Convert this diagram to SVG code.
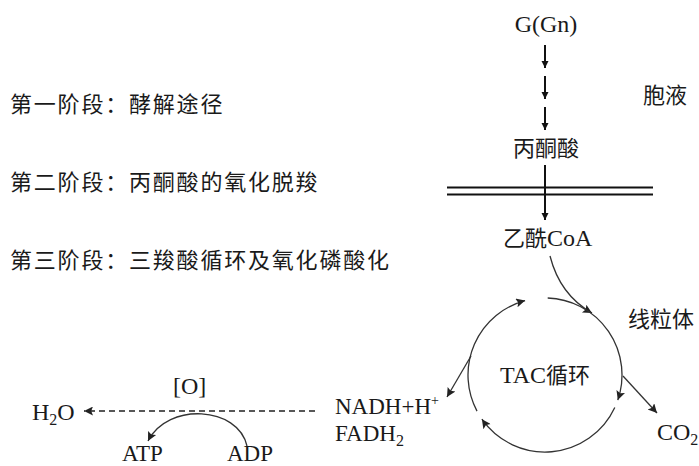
<svg xmlns="http://www.w3.org/2000/svg" width="699" height="466" viewBox="0 0 699 466">
<style>
text{font-family:"Liberation Serif","Noto Sans CJK SC",serif;fill:#1a1a1a;font-size:24px}
.cjk{font-size:22px}
.stage{font-size:22px;letter-spacing:1.8px}
.thick{stroke:#111;stroke-width:2;fill:none}
.thin{stroke:#333;stroke-width:1.3;fill:none}
.sub{font-size:16px}
.nf{font-size:23px}
</style>
<defs>
<marker id="ah" viewBox="0 0 10 10" refX="10" refY="5" markerUnits="userSpaceOnUse" markerWidth="7" markerHeight="12" orient="auto">
<path d="M0,0 L10,5 L0,10 z" fill="#111"/>
</marker>
<marker id="ahs" viewBox="0 0 10 10" refX="10" refY="5" markerUnits="userSpaceOnUse" markerWidth="13" markerHeight="9" orient="auto">
<path d="M0,0 L10,5 L0,10 L2,5 z" fill="#222"/>
</marker>
</defs>
<g id="stages">
<text class="stage" x="10" y="112">第一阶段：酵解途径</text>
<text class="stage" x="10" y="190">第二阶段：丙酮酸的氧化脱羧</text>
<text class="stage" x="10" y="268">第三阶段：三羧酸循环及氧化磷酸化</text>
</g>
<g id="glucose"><text x="546" y="32" text-anchor="middle">G(Gn)</text></g>
<g id="cytosol"><text class="cjk" x="643" y="103">胞液</text></g>
<g id="pyruvate"><text class="cjk" x="546" y="156" text-anchor="middle">丙酮酸</text></g>
<g id="acetylcoa"><text x="503" y="246"><tspan class="cjk">乙酰</tspan>CoA</text></g>
<g id="mito"><text class="cjk" x="628" y="327">线粒体</text></g>
<g id="tac"><text x="500" y="383">TAC<tspan class="cjk">循环</tspan></text></g>
<g id="co2"><text x="657" y="440">CO<tspan class="sub" dy="5">2</tspan></text></g>
<g id="nadh">
<text class="nf" x="335" y="414">NADH+H<tspan font-size="14" dy="-9">+</tspan></text>
<text class="nf" x="335" y="441">FADH<tspan class="sub" dy="5">2</tspan></text>
</g>
<g id="h2o"><text x="32" y="420">H<tspan class="sub" dy="5">2</tspan><tspan dy="-5">O</tspan></text></g>
<g id="oxygen"><text x="173" y="394">[O]</text></g>
<g id="atp"><text class="nf" x="122" y="461">ATP</text></g>
<g id="adp"><text class="nf" x="227" y="461">ADP</text></g>
<g id="membrane">
<line x1="447" y1="187.5" x2="653" y2="187.5" class="thick"/>
<line x1="447" y1="194.5" x2="653" y2="194.5" class="thick"/>
</g>
<g id="connectors">
<line x1="545" y1="45" x2="545" y2="68" class="thick" marker-end="url(#ah)"/>
<line x1="545" y1="76" x2="545" y2="99" class="thick" marker-end="url(#ah)"/>
<line x1="545" y1="107" x2="545" y2="130" class="thick" marker-end="url(#ah)"/>
<line x1="545" y1="165" x2="545" y2="220" class="thick" marker-end="url(#ah)"/>
<path d="M550,256 Q560,295 592,313" class="thin" marker-end="url(#ahs)"/>
<path d="M477,411.1 A77,77 0 0 1 525.1,300.6" class="thin" marker-end="url(#ahs)"/>
<path d="M547.7,298 A77,77 0 0 1 617.8,400.1" class="thin" marker-end="url(#ahs)"/>
<path d="M614.8,407.5 A77,77 0 0 1 481.9,419.2" class="thin" marker-end="url(#ahs)"/>
<line x1="471" y1="356" x2="447" y2="397" class="thin" marker-end="url(#ahs)"/>
<line x1="623" y1="376" x2="657" y2="413" class="thin" marker-end="url(#ahs)"/>
<line x1="315" y1="411" x2="84" y2="411" stroke="#222" stroke-width="1.5" stroke-dasharray="6 4" marker-end="url(#ahs)"/>
<path d="M247,446 C238,406 168,402 148,441" class="thin" marker-end="url(#ahs)"/>
</g>
</svg>
